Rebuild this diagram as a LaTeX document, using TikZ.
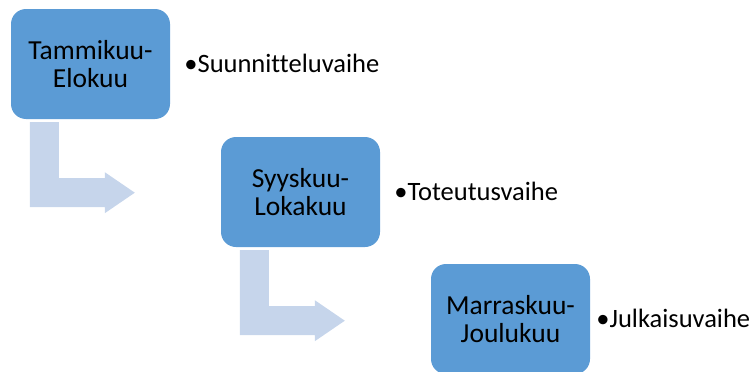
\documentclass[tikz,border=0pt]{standalone}
\usepackage{fontspec}
\setmainfont{Carlito}[RawFeature=-liga]
\usetikzlibrary{calc}
\definecolor{boxblue}{HTML}{5B9BD5}
\definecolor{arrowblue}{HTML}{C6D5EB}

\begin{document}
\begin{tikzpicture}
  [
    x=1pt,y=-1pt,
    month/.style={
      fill=boxblue,
      rounded corners=15pt,
      minimum width=159pt,
      minimum height=110pt,
      align=center,
      inner sep=0pt,
      font=\fontsize{27.5}{28}\selectfont
    },
    phase/.style={
      anchor=base west,
      inner sep=0pt,
      font=\fontsize{26.5}{28}\selectfont
    },
    bendarrow/.style={
      fill=arrowblue
    }
  ]
  \useasboundingbox (0,0) rectangle (750,372);
  % boxes
  \node [month] (jan) at (90.5,64) {Tammikuu-\\Elokuu};
  \node [month] (sep) at (300.5,192) {Syyskuu-\\Lokakuu};
  \node [month] (nov) at (510.5,319) {Marraskuu-\\Joulukuu};
  % phases
  \node [phase] (plan) at ($(jan.east)+(14,8)$) {•Suunnitteluvaihe};
  \node [phase] (impl) at ($(sep.east)+(14,8)$) {•Toteutusvaihe};
  \node [phase] (publ) at ($(nov.east)+(6,8)$) {•Julkaisuvaihe};
  % arrows
  \fill [bendarrow] ($(jan.south west)+(19,3)$) -- ++(29,0) -- ++(0,56) -- ++(46,0)
    -- ++(0,-6) -- ++(30,20.5) -- ++(-30,20.5) -- ++(0,-6) -- ++(-75,0) -- cycle;
  \fill [bendarrow] ($(sep.south west)+(19,3)$) -- ++(29,0) -- ++(0,56) -- ++(46,0)
    -- ++(0,-6) -- ++(30,20.5) -- ++(-30,20.5) -- ++(0,-6) -- ++(-75,0) -- cycle;
\end{tikzpicture}
\end{document}
